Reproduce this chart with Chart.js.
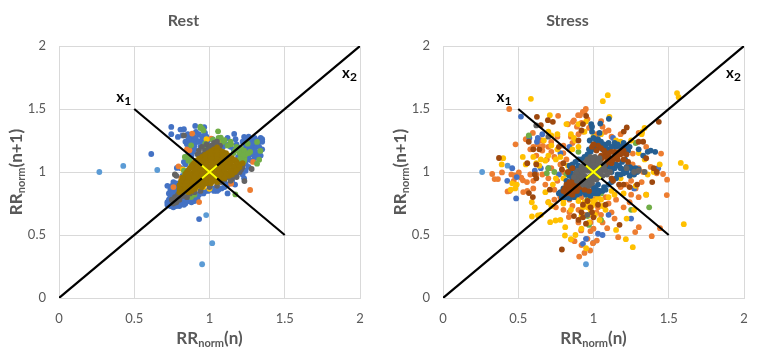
<!DOCTYPE html>
<html>
<head>
<meta charset="utf-8">
<title>Poincare plots</title>
<script src="https://cdn.jsdelivr.net/npm/chart.js@4"></script>
<style>
body { margin: 0; background: #fff; }
canvas { position: absolute; top: 0; }
#rest { left: 0; }
#stress { left: 384px; }
</style>
</head>
<body>
<canvas id="rest" width="380" height="358"></canvas>
<canvas id="stress" width="377" height="358"></canvas>
<script>
var tickValues = [0, 0.5, 1, 1.5, 2];
var lineX1 = [[0.5, 1.5], [1.5, 0.5]];
var lineX2 = [[0, 0], [2, 2]];
var crossA = [[0.95, 0.95], [1.05, 1.05]];
var crossB = [[0.95, 1.05], [1.05, 0.95]];

// Rest
var restLightBlue = [[.268,1.0],[.427,1.048],[.653,1.016],[.978,.658],[1.018,.435],[.951,.268]];
var restBlue = [[.746,1.358],[.746,1.30],[.905,1.366],[.965,1.355],[.807,1.337],[.91,1.318],[.856,1.30],[.79,1.278],[1.164,1.302],[1.173,1.26],[1.23,1.278],[.613,1.143],[.931,.626],[.783,1.032],
[.83,1.34],[.84,1.24],[.88,1.27],[.93,1.30],[.95,1.28],[.87,1.19],[.90,1.21],[.92,1.24],[.82,1.29],[.86,1.15],[.98,1.28],[1.02,1.26],[1.08,1.25],[1.12,1.27],[1.10,1.22],[1.14,1.20],
[1.24,1.26],[1.26,1.28],[1.28,1.26],[1.30,1.24],[1.32,1.25],[1.34,1.27],[1.35,1.26],[1.35,1.24],[1.27,1.23],[1.25,1.22],[1.29,1.21],[1.24,1.19],[1.28,1.18],[1.31,1.20],[1.35,1.18],[1.33,1.15],[1.34,1.13],[1.27,1.14],[1.22,1.12],[1.25,1.10],[1.30,1.11],[1.22,1.05],[1.26,1.04],[1.20,1.02],
[.72,.74],[.73,.78],[.72,.89],[.74,.86],[.75,.74],[.76,.72],[.78,.73],[.80,.73],[.82,.76],[.84,.75],[.86,.77],[.88,.76],[.90,.77],[.93,.82],[.96,.83],[.99,.85],[1.02,.87],[1.05,.85],[1.08,.87],[1.12,.83],[1.17,.90],[1.23,.95],[.74,.80],[.76,.83],[.78,.86],[.76,.92],[.79,.90],[.75,.77],[.77,.79],[.80,.81],[.84,.80],[.87,.81],[.90,.84],
[.81,1.03],[.84,1.06],[.86,1.12],[.89,1.16],[.94,1.20],[.82,.97],[1.15,.93],[1.12,.90],[1.10,.92]];
var restBlueFill = [[.72,.76],[.74,.73],[.73,.83],[.75,.83],[.75,.89],[.77,.87],[.78,.91],[.79,.76],[.81,.78],[.83,.74],[.85,.78],[.87,.78],[.89,.79],[.91,.81],[.92,.79],[.94,.84],[.97,.85],[1.0,.86],[1.03,.85],[1.06,.86],[1.1,.88],[1.14,.91],[.81,.85],[.83,.82],[.86,.79],[.78,.8],[.8,.75],
[.85,1.22],[.87,1.25],[.89,1.29],[.91,1.27],[.93,1.24],[.95,1.25],[.97,1.31],[.96,1.23],[.89,1.24],[.86,1.26],[.9,1.18],[.88,1.13],[.85,1.1],[.83,1.08],[.99,1.25],[1.04,1.24],[1.06,1.22],[1.09,1.2],[1.13,1.22],[1.16,1.18],[1.18,1.22],[1.2,1.19],[1.22,1.24],[1.24,1.22],[1.26,1.2],[1.28,1.23],[1.3,1.27],[1.32,1.22],[1.33,1.2],[1.29,1.17],[1.25,1.16],[1.23,1.15],[1.26,1.12],[1.29,1.14],[1.31,1.16],[1.32,1.13],[1.24,1.07],[1.28,1.09],[1.22,1.09],[1.19,1.12],[1.2,1.06],[1.22,.98],[1.24,1.01],[1.18,.97]];
var restOrange = [[1.27,.857],[.931,.761],[.794,1.045],[.885,1.305],[1.011,1.265],[.867,1.172],[.812,.952],[1.144,.907],[1.219,1.066],[.76,.88],[.85,1.18],[1.29,1.08],[1.12,1.13]];
var restYellow = [[.823,1.021],[1.0,.867],[1.055,.907],[.96,.88],[1.22,1.08],[1.08,1.24],[.88,.86],[.98,1.26],[.93,.87],[1.06,1.2]];
var restGreen = [[1.057,1.323],[.951,1.345],[.96,1.33],[.94,1.35],[1.075,1.273],[1.10,1.252],[1.144,1.22],[1.316,1.239],[1.338,1.167],[1.316,1.066],[1.33,1.098],[1.27,1.16],[1.22,1.146],[1.232,1.106],[1.21,1.186],[1.254,1.225],[.878,1.212],[.971,1.225],[1.022,1.257],[.836,1.119],[.878,1.066],[.819,.934],[.834,.973],[.878,.801],[1.172,.822],
[1.20,1.15],[1.23,1.17],[1.21,1.12],[1.18,1.20],[1.24,1.14],[1.06,1.27],[1.12,1.21],[.86,1.09],[.85,.90],[.90,.82],[1.00,.90],[.86,.83],[1.23,1.09],[1.26,1.15],[1.17,1.17],[1.22,1.13],[1.2,1.1],[1.14,1.24],[1.16,1.15],[.85,1.12],[.87,1.1],[.83,1.01],[.84,.94],[.82,.9],[.96,1.2],[.94,1.36],[1.09,1.24]];
var restGray = [[.75,.78],[.78,.76],[.77,.80],[.80,.78],[.76,.75],[.85,.80],[.80,.83],[.77,.98],[.83,1.29],[.79,.82],[.87,.83],[.92,1.14],[.95,1.20],[.98,1.22],[1.0,1.19],[1.03,1.23],[1.05,1.24],[.93,1.17],[1.07,1.21],[.97,1.17],
[1.232,.928],[1.28,1.024],[1.19,1.013],[1.18,.96],[1.15,.95],[1.2,1.0],[1.22,1.04],[1.17,.99],[1.12,.96],[1.08,.92],[1.0,.88],[.94,.85],[.78,.79],[.76,.77],[.82,.81],[.78,.97],[.9,.84],[.96,1.14],[.94,1.13],[1.01,1.21],[1.04,1.2],[.99,1.18],[1.21,1.02],[1.16,.97],[1.14,.93],[1.1,.94],[1.05,.89]];
var restBrown = [[1.03,1.18],[1.07,1.17],[.99,1.15],[1.03,1.15],[1.07,1.14],[1.11,1.15],[.95,1.12],[.99,1.11],[1.03,1.12],[1.07,1.11],[1.11,1.12],[1.15,1.11],[.91,1.09],[.95,1.08],[.99,1.09],[1.03,1.08],[1.07,1.09],[1.11,1.08],[1.15,1.09],[1.18,1.08],
[.89,1.06],[.93,1.05],[.97,1.06],[1.01,1.05],[1.05,1.06],[1.09,1.05],[1.13,1.06],[1.17,1.05],[1.2,1.06],[.87,1.03],[.91,1.02],[.95,1.03],[.99,1.02],[1.03,1.03],[1.07,1.02],[1.11,1.03],[1.15,1.02],[1.19,1.03],
[.85,1.0],[.89,.99],[.93,1.0],[.97,.99],[1.01,1.0],[1.05,.99],[1.09,1.0],[1.13,.99],[1.17,1.0],[.84,.97],[.88,.96],[.92,.97],[.96,.96],[1.0,.97],[1.04,.96],[1.08,.97],[1.13,.97],
[.83,.94],[.87,.93],[.91,.94],[.95,.93],[.99,.94],[1.03,.93],[1.07,.94],[.82,.91],[.86,.9],[.9,.91],[.94,.9],[.98,.91],[1.01,.91],[.83,.88],[.87,.87],[.91,.88],[.95,.88],[.83,.85],[.88,.85]];
var restBrownFill = [[1.05,1.195],[1.01,1.165],[1.05,1.165],[1.09,1.16],[.97,1.135],[1.01,1.13],[1.05,1.13],[1.09,1.13],[1.13,1.13],[.93,1.105],[.97,1.1],[1.01,1.1],[1.05,1.1],[1.09,1.1],[1.13,1.1],[1.17,1.095],[.9,1.075],[.94,1.07],[.98,1.07],[1.02,1.07],[1.06,1.075],[1.1,1.07],[1.14,1.07],[1.18,1.065],[1.22,1.07],
[.88,1.045],[.92,1.04],[.96,1.04],[1.0,1.04],[1.04,1.045],[1.08,1.04],[1.12,1.04],[1.16,1.04],[1.2,1.04],[.86,1.015],[.9,1.01],[.94,1.01],[.98,1.01],[1.02,1.015],[1.06,1.01],[1.1,1.01],[1.14,1.01],[1.18,1.015],[.84,.985],[.87,.98],[.91,.98],[.95,.98],[.99,.985],[1.03,.98],[1.07,.98],[1.11,.98],[1.15,.98],
[.82,.955],[.86,.95],[.9,.955],[.94,.95],[.98,.955],[1.02,.95],[1.06,.955],[1.1,.95],[.81,.925],[.85,.92],[.89,.925],[.93,.92],[.97,.925],[1.01,.92],[1.05,.92],[.8,.895],[.84,.89],[.88,.89],[.92,.895],[.96,.9],[.8,.865],[.84,.865],[.86,.86],[.9,.865],[.8,.84],[.86,.84]];
var restDarkOrange = [[.889,1.048]];

// Stress
var stressLightBlue = [[.26,1.0],[.429,1.05],[.95,.268],[1.0,.44]];
var stressBlue = [[.518,1.44],[.427,.93],[.46,1.03],[.486,.79],[.49,.96],[.574,1.27],[.624,1.24],[.63,1.27],[.61,1.01],[.66,1.3],[.65,1.03],[.70,1.03],[.77,.98],[.84,1.2],[1.25,.63],[1.1,.66],[.95,.47],[.93,.43],[1.03,.51],[1.06,.5],[1.27,.87],[1.43,1.03],[1.13,1.27],[.78,1.15]];
var stressGreen = [[.57,1.29],[.70,1.03],[.69,.99],[.74,1.0],[.9,1.16],[1.25,.7],[1.37,.72],[1.28,1.23],[.96,.65],[.97,.58],[.96,.78],[1.05,.83],[.82,.98],[1.05,.62]];
var stressOrange = [[.44,1.50],[.327,.984],[.343,.944],[.365,.944],[.392,.997],[.429,.846],[.442,.849],[.454,.981],[.476,.973],[.504,.997],[.531,.934],[.52,.955],[.558,.92],[.533,.841],[.482,1.22],[.597,1.31],[.653,1.252],[.664,1.207],[.719,1.239],[.765,1.446],[.83,1.379],[.863,1.398],[.898,1.451],[.929,1.477],[.949,1.50],[.985,1.371],[1.051,1.403],[1.077,1.318],[1.261,1.146],[1.449,1.146],[1.489,.939],[1.487,.817],[1.462,.984],[1.387,.491],[1.277,.523],[1.301,.562],[1.164,.483],[1.442,.554],[1.091,.554],[1.022,.456],[.996,.435],[.978,.377],[.905,.329],[.94,.358],[.874,.451],[.852,.464],[.918,.536],[.84,.682],[.836,.642],
[.47,.93],[.5,.98],[.6,.93],[.62,.98],[.56,.85],[.6,.87],[.66,.98],[.58,1.18],[.62,1.13],[.69,1.1],[.72,1.16],[.76,1.28],[.8,1.21],[.85,1.28],[.89,1.36],[.92,1.39],[.94,1.48],[.82,1.1],[.78,1.06],[.74,.86],[.7,.76],[.75,.72],[.8,.7],[.86,.73],[.9,.6],[.98,.6],[1.03,.72],[1.05,.66],[1.12,.68],[1.2,.72],[1.24,.76],[1.3,.8],[1.35,.82],[1.28,.87],[1.22,.9],[1.18,.88],[1.33,1.0],[1.38,1.04],[1.42,.99],[1.35,1.2],[1.3,1.31],[1.22,1.2],[1.18,1.3],[1.1,1.33],[1.0,1.2],[.93,1.1],[.88,.95],[.95,.75],[1.08,.8],[1.14,.63],[.98,.53],
[.55,1.26],[.6,1.2],[.63,1.22],[.66,1.17],[.7,1.2],[.74,1.12],[.8,1.15],[.84,1.18],[.86,1.23],[.9,1.3],[.93,1.32],[.96,1.42],[.91,1.45],[.97,1.35],[1.02,1.3],[1.06,1.36],[1.12,1.28],[1.2,1.15],[1.26,1.06],[1.32,.92],[1.25,.82],[1.15,.78],[1.1,.75],[1.02,.68],[.94,.66],[.9,.7],[.84,.78],[.78,.8],[.74,.78],[.68,.9],[.7,.95],[.58,.98],[.72,1.03],[.76,.93],[.8,1.0],[.92,.8],[1.0,.78],[1.06,.6],[.96,.47],[.92,.42],[1.0,.55],[1.25,.93],[1.3,1.03],[1.16,1.22],[.87,1.41]];
var stressYellow = [[.584,1.581],[1.095,1.61],[1.062,1.562],[1.555,1.626],[1.566,1.594],[1.58,1.072],[1.613,1.04],[1.6,.586],[1.261,.403],[1.215,.467],[.951,.395],[.85,.467],[.81,.496],[.812,.562],[.712,.602],[.748,.615],[.591,.647],[.631,.655],[.71,1.451],[1.106,1.438],[1.339,1.35],[1.323,1.318],
[.39,1.06],[.4,1.11],[.46,.91],[.49,.9],[.45,.86],[.48,.87],[.53,1.12],[.55,1.06],[.6,1.12],[.62,1.07],[.64,1.05],[.59,.76],[.61,.72],[.65,.66],[.7,.76],[.72,.73],[.75,.95],[.73,.9],[.7,1.32],[.72,1.29],[.76,1.3],[.72,1.21],[.67,1.25],[.82,1.38],[.85,1.3],[.87,1.27],[.9,1.38],[.88,1.25],[.95,1.4],[.83,1.05],[.8,.75],[.85,.7],[.92,.65],[.96,.72],[.98,.7],[1.0,.75],[1.05,.78],[1.04,.62],[1.08,.7],[1.15,.54],[1.2,.83],[1.22,.63],[1.27,.7],[1.28,.89],[1.35,.82],[1.36,.98],[1.44,1.06],[1.4,1.0],[1.34,1.1],[1.32,1.3],[1.25,1.25],[1.18,1.24],[1.1,1.15],[.98,.8],[.93,.72],[.97,.66],[.88,.5],[.82,.85],[.75,1.1],[.68,1.09],[1.02,.82],
[.94,.76],[.96,.75],[.97,.78],[.99,.73],[1.01,.77],[1.03,.8],[1.06,.73],[1.1,.8],[1.14,.82],[.9,.77],[.88,.8],[.84,.92],[.8,.95],[.78,1.12],[.76,1.18],[.7,1.13],[.65,1.1],[.9,1.2],[.86,1.18],[.94,1.32],[1.0,1.28],[1.05,1.3],[1.15,1.25],[1.22,1.17],[1.3,1.15],[1.26,.98],[1.18,.95],[1.12,.85],[.97,.6],[.92,.55],[1.01,.66],[.78,.62],[.8,.78],[.68,.84]];
var stressBrown = [[.372,1.111],[.624,1.438],[.697,1.411],[.73,1.398],[.65,1.371],[.951,1.446],[1.434,1.398],[1.221,1.353],[1.201,1.321],[.79,.385],[.571,.833],[.597,.801],[1.173,.581],[.6,1.18],[.62,1.06],[.61,.98],[.62,.95],[.64,1.18],[.71,.86],[.56,1.07],[.57,1.24],[.77,1.2],[.8,1.07],[.79,1.02],[.9,1.25],[.93,1.38],[.92,1.33],[1.3,1.24],[1.33,1.24],[1.39,.92],[1.4,1.03],[1.42,1.0],[1.35,1.11],[1.23,1.08],[1.29,.9],[1.24,.88],[1.13,.93],[1.17,.9],[1.08,.74],[1.03,.74],[.92,.68],[.93,.64],[.87,.65],[.9,.62],[.95,.59],[1.0,.64],[.96,.77],
[.8,.85],[.82,.83],[.84,.85],[.86,.82],[.83,.88],[.86,.87],[.89,.85],[.85,.91],[.88,.9],[.91,.88],[.9,.93],[.93,.92],[.87,.94],[1.06,1.05],[1.09,1.08],[1.12,1.07],[1.1,1.12],[1.13,1.1],[1.16,1.1],[1.15,1.15],[1.18,1.14],[1.2,1.17],[1.12,1.16],[1.05,1.1],[1.08,1.15],[1.03,1.21],[.99,1.2],
[.81,.87],[.83,.85],[.85,.83],[.87,.85],[.84,.88],[.86,.9],[.88,.87],[.9,.9],[.82,.9],[.84,.92],[.87,.92],[.89,.95],[.92,.95],[1.08,1.06],[1.1,1.09],[1.12,1.1],[1.14,1.12],[1.16,1.13],[1.14,1.16],[1.17,1.16],[1.19,1.15],[1.1,1.15],[1.07,1.12],[1.05,1.13],[1.02,1.17],[1.0,1.22],[1.05,1.19],[1.07,1.17],[1.1,1.1],[1.2,1.1],[1.22,1.14],[.86,1.03],[.83,1.0],[.94,.86],[.97,.85],[.98,.72],[.99,.68],[.93,.74],[1.12,.95],[1.2,.9]];
var stressDarkBlue = [[1.102,1.422],[.985,1.38],[1.045,1.384],[.99,1.32],[1.04,1.31],[.99,1.36],[.975,1.25],[1.03,1.26],[1.05,1.24],[1.07,1.22],[1.0,1.22],[1.03,1.2],[.97,1.18],[1.06,1.18],[1.14,1.23],[1.18,1.2],[1.2,1.23],[1.22,1.21],[1.23,1.17],[1.18,1.15],[1.3,1.18],[1.36,1.16],[1.38,1.17],[1.41,1.16],[1.33,1.13],
[1.12,1.0],[1.14,1.03],[1.17,1.05],[1.2,1.02],[1.22,1.0],[1.25,1.03],[1.27,1.02],[1.24,.97],[1.29,1.0],[1.16,.98],[1.1,1.04],
[.79,.82],[.78,.84],[.81,.8],[.84,.79],[.87,.8],[.8,.87],[.83,.9],[.86,.95],[.85,1.0],[.84,1.05],[.87,1.03],[.89,1.0],[.88,1.08],[.9,1.05],[.92,1.1],
[.95,.86],[.98,.84],[1.01,.83],[1.04,.85],[1.07,.88],[1.0,.88],[.96,.9],[1.1,.9],[1.03,.9],[.92,.85],[.95,.82],[.98,.81],[1.02,.86],[1.15,1.2],[1.1,1.18],
[1.0,1.27],[1.02,1.24],[1.04,1.22],[1.08,1.2],[1.1,1.23],[1.12,1.2],[1.16,1.22],[1.19,1.17],[1.21,1.19],[1.24,1.2],[1.01,1.18],[.98,1.16],[.96,1.14],[.94,1.12],[.9,1.1],[.86,1.06],[.85,1.03],[.87,.98],[.84,.97],[.82,.93],[.8,.83],[.77,.83],[.79,.8],[.83,.8],[.85,.81],[.89,.82],[.91,.83],[.94,.84],[.96,.83],[1.0,.85],[1.03,.83],[1.06,.85],[1.08,.86],[1.12,.92],[1.15,.95],[1.18,.98],[1.2,.99],[1.22,1.04],[1.24,1.04],[1.26,.99],[1.28,1.03],[1.3,1.02],[1.18,1.03],[1.15,1.06],[1.12,1.03],[1.27,.98],[1.21,1.1],[1.19,1.08]];
var stressGray = [[1.34,1.0],[.7,1.28],[.62,1.37],[1.27,1.0],[1.22,1.03],[.96,.66],
[.9,.95],[.93,.93],[.96,.92],[.99,.93],[1.02,.94],[.88,.98],[.91,.98],[.94,.97],[.97,.96],[1.0,.97],[1.03,.98],[1.06,.97],[.9,1.01],[.93,1.0],[.96,1.01],[.99,1.0],[1.02,1.01],[1.05,1.0],[1.08,1.01],[1.11,1.0],[.92,1.04],[.95,1.05],[.98,1.04],[1.01,1.05],[1.04,1.04],[1.07,1.05],[.96,1.08],[.99,1.09],[1.02,1.08],[1.05,1.07],[.98,1.12],[1.01,1.12],[1.04,1.11],[.94,1.07],[.93,.9],[.97,.89],
[.89,.93],[.92,.96],[.95,.95],[.98,.95],[1.01,.96],[1.04,.96],[.87,.96],[.89,1.0],[.92,1.02],[.95,1.03],[.98,1.02],[1.01,1.03],[1.04,1.02],[1.07,1.03],[1.09,.98],[.97,1.06],[1.0,1.07],[1.03,1.06],[.96,1.1],[1.0,1.1],[1.03,1.09],[.99,.91],[.95,.9],[1.3,1.01]];

function toPoints(pairs) {
    return pairs.map(function(p) { return { x: p[0], y: p[1] }; });
}

function dots(pairs, color) {
    return { data: toPoints(pairs), backgroundColor: color, borderWidth: 0, pointRadius: 2.9, showLine: false };
}

function segment(pairs, color) {
    return { data: toPoints(pairs), borderColor: color, borderWidth: 2.2, pointRadius: 0, showLine: true };
}

function fixedAxis(size, isX) {
    return {
        type: 'linear',
        min: 0,
        max: 2,
        afterBuildTicks: function(axis) {
            axis.ticks = tickValues.map(function(v) { return { value: v }; });
        },
        afterFit: function(axis) {
            if (isX) axis.height = size; else axis.width = size;
        },
        border: { color: '#D9D9D9' },
        grid: { color: '#D9D9D9', drawTicks: false },
        ticks: {
            color: '#595959',
            padding: 13,
            maxRotation: 0,
            font: { family: 'Lato', size: 13 },
            callback: function(v) { return String(v); }
        }
    };
}

// base text + smaller subscript, with the pair centred on the current origin
function subText(ctx, base, sub, tail, size, subSize) {
    var baseFont = 'bold ' + size + 'px Lato';
    var subFont = 'bold ' + subSize + 'px Lato';
    ctx.font = baseFont;
    var w1 = ctx.measureText(base).width;
    var w3 = tail ? ctx.measureText(tail).width : 0;
    ctx.font = subFont;
    var w2 = ctx.measureText(sub).width;
    var x = -(w1 + w2 + w3) / 2;
    ctx.textBaseline = 'alphabetic';
    ctx.textAlign = 'left';
    ctx.font = baseFont;
    ctx.fillText(base, x, size * 0.35);
    ctx.font = subFont;
    ctx.fillText(sub, x + w1, size * 0.35 + 3);
    if (tail) {
        ctx.font = baseFont;
        ctx.fillText(tail, x + w1 + w2, size * 0.35);
    }
}

function labelsPlugin(titleText, x1Pos) {
    return {
        id: 'labels',
        afterDraw: function(chart) {
            var ctx = chart.ctx;
            var sx = chart.scales.x, sy = chart.scales.y;
            var midX = (sx.left + sx.right) / 2;
            ctx.save();
            ctx.fillStyle = '#595959';
            ctx.font = 'bold 16px Lato';
            ctx.textAlign = 'center';
            ctx.textBaseline = 'middle';
            ctx.fillText(titleText, midX - 26, 21);

            ctx.save();
            ctx.translate(midX, 338);
            subText(ctx, 'RR', 'norm', '(n)', 17, 11);
            ctx.restore();

            ctx.save();
            ctx.translate(16, 172);
            ctx.rotate(-Math.PI / 2);
            subText(ctx, 'RR', 'norm', '(n+1)', 17, 11);
            ctx.restore();

            ctx.fillStyle = '#000';
            ctx.save();
            ctx.translate(sx.getPixelForValue(x1Pos), sy.getPixelForValue(1.6));
            subText(ctx, 'x', '1', '', 15, 12);
            ctx.restore();
            ctx.save();
            ctx.translate(sx.getPixelForValue(1.93), sy.getPixelForValue(1.79));
            subText(ctx, 'x', '2', '', 15, 12);
            ctx.restore();
            ctx.restore();
        }
    };
}

function makeChart(id, titleText, rightPad, x1Pos, sets) {
    // chart.js paints the first dataset last, so the lines go first
    var lines = [
        segment(crossB, '#FFFF00'),
        segment(crossA, '#FFFF00'),
        segment(lineX2, '#000'),
        segment(lineX1, '#000')
    ];
    new Chart(document.getElementById(id), {
        type: 'scatter',
        data: { datasets: lines.concat(sets.reverse()) },
        options: {
            responsive: false,
            animation: false,
            layout: { padding: { top: 46, right: rightPad, left: 0, bottom: 0 } },
            plugins: { legend: { display: false }, tooltip: { enabled: false } },
            scales: { x: fixedAxis(60, true), y: fixedAxis(59, false) }
        },
        plugins: [labelsPlugin(titleText, x1Pos)]
    });
}

makeChart('rest', 'Rest', 20, 0.43, [
    dots(restLightBlue, '#5B9BD5'),
    dots(restBlue.concat(restBlueFill), '#4472C4'),
    dots(restOrange, '#ED7D31'),
    dots(restYellow, '#FFC000'),
    dots(restGreen, '#70AD47'),
    dots(restGray, '#636363'),
    dots(restDarkOrange, '#9E480E'),
    dots(restBrown.concat(restBrownFill), '#997300')
]);

makeChart('stress', 'Stress', 17, 0.405, [
    dots(stressLightBlue, '#5B9BD5'),
    dots(stressOrange, '#ED7D31'),
    dots(stressBlue, '#4472C4'),
    dots(stressGreen, '#70AD47'),
    dots(stressYellow, '#FFC000'),
    dots(stressDarkBlue, '#255E91'),
    dots(stressBrown, '#9E480E'),
    dots(stressGray, '#636363')
]);
</script>
</body>
</html>
